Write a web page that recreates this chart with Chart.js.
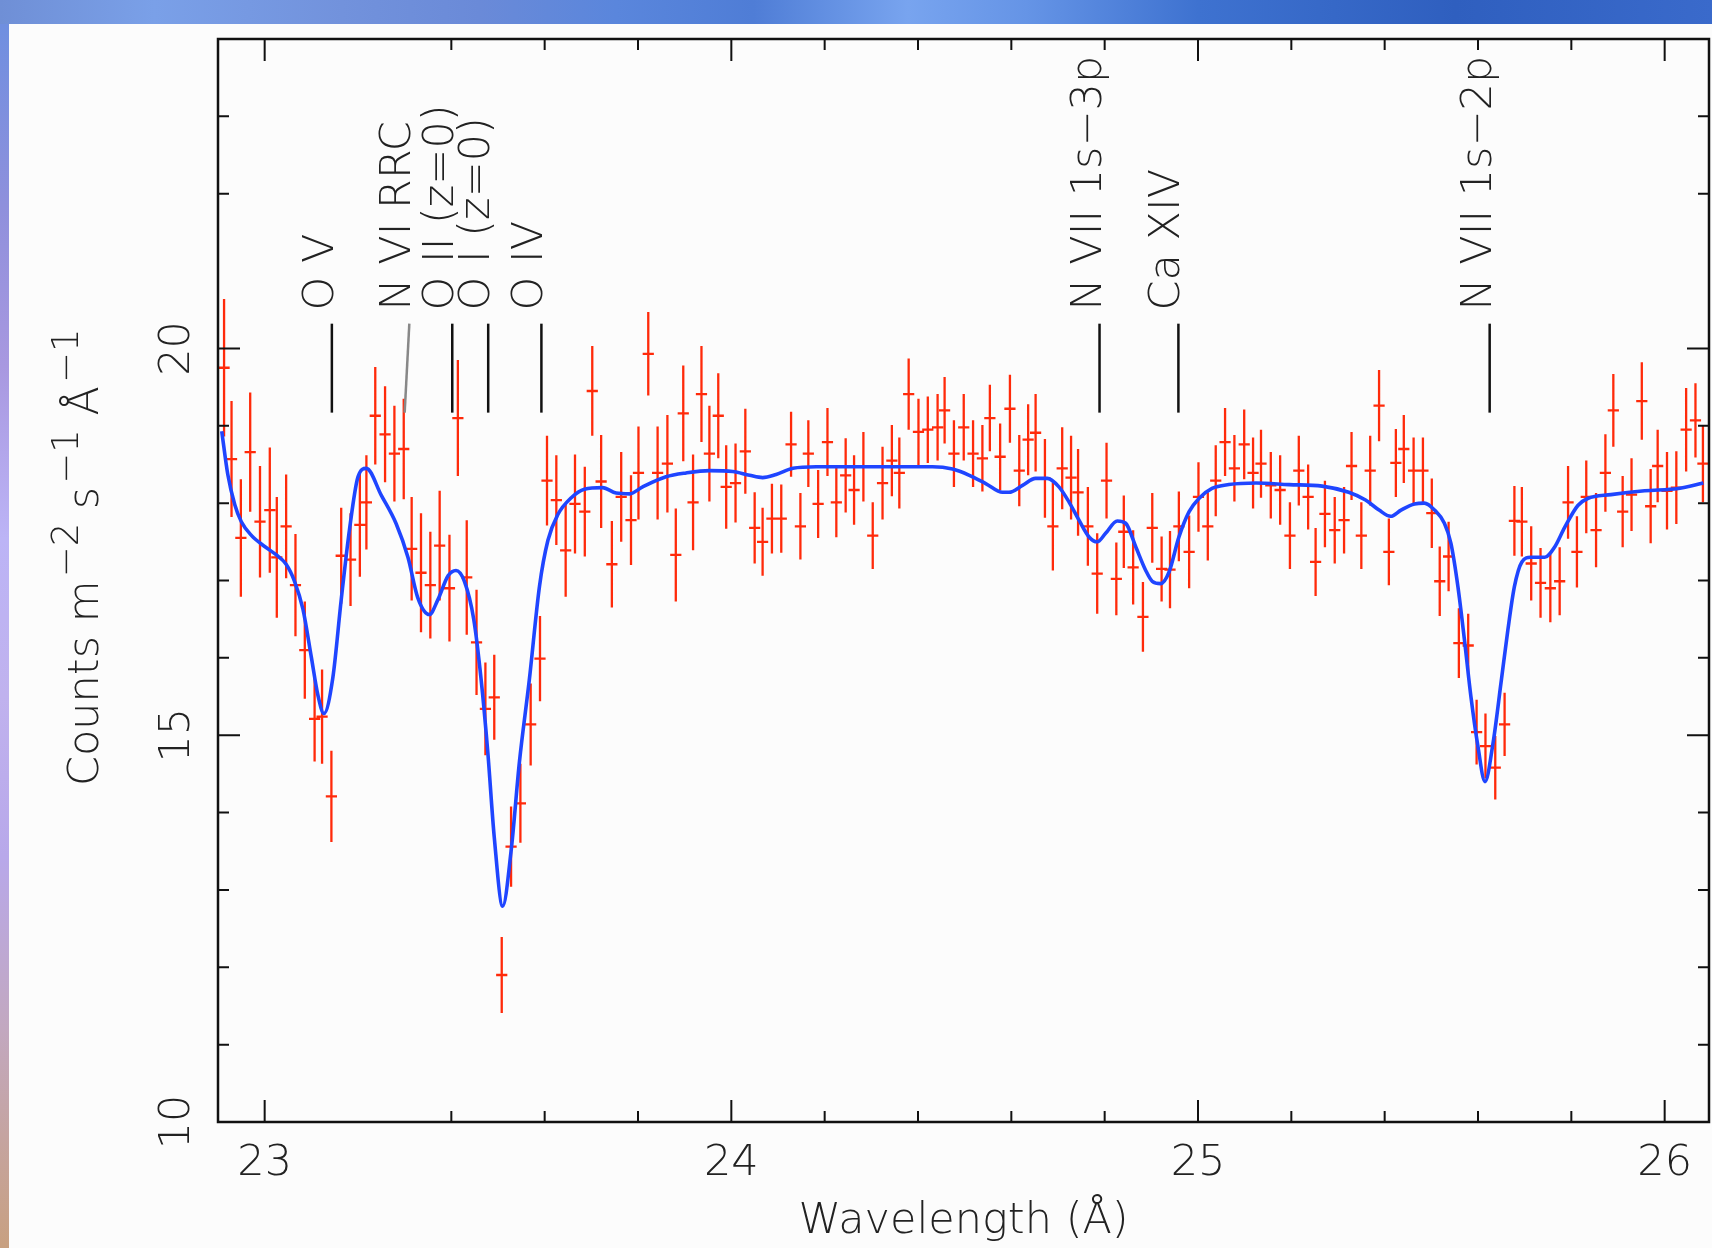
<!DOCTYPE html>
<html><head><meta charset="utf-8">
<script src="https://cdn.jsdelivr.net/npm/chart.js@4.4.1/dist/chart.umd.min.js"></script>
<style>
html,body{margin:0;padding:0;background:#fcfcfc;}
body{width:1712px;height:1248px;overflow:hidden;position:relative;}
#c{position:absolute;left:0;top:0;}
#banner{position:absolute;left:0;top:0;width:1712px;height:24px;
 background:linear-gradient(90deg,#6f8fd6 0%,#7aa0e8 9%,#7292dc 20%,#6a8ad8 28%,#5a86dc 36%,#4f7dd6 44%,#78a4ef 53%,#6594e6 60%,#3e72d0 70%,#2f5fbf 85%,#3a6acb 100%);}
#strip{position:absolute;left:0;top:24px;width:9px;height:1224px;
 background:linear-gradient(180deg,#6f8fe0 0%,#8f90dc 15%,#a898e0 28%,#bcb4f6 42%,#c0b2ee 55%,#b8a8ea 68%,#c2a8c0 82%,#c8a080 100%);}
</style></head><body>
<canvas id="c" width="1712" height="1248"></canvas>
<div id="banner"></div><div id="strip"></div>
<script>
// ---- data ----
const wavelength = [
22.913,22.929,22.949,22.969,22.990,23.011,23.026,23.046,23.066,23.086,23.107,23.123,23.143,23.164,23.184,23.204,23.218,23.237,23.258,23.278,
23.298,23.315,23.335,23.355,23.375,23.396,23.414,23.433,23.454,23.473,23.492,23.508,23.528,23.548,23.570,23.590,23.605,23.625,23.645,23.665,
23.686,23.702,23.721,23.744,23.764,23.785,23.801,23.822,23.842,23.863,23.881,23.897,23.918,23.936,23.953,23.972,23.989,24.009,24.030,24.050,
24.067,24.087,24.107,24.128,24.148,24.165,24.186,24.206,24.225,24.245,24.263,24.283,24.303,24.324,24.344,24.360,24.380,24.401,24.421,24.442,
24.457,24.477,24.498,24.518,24.538,24.554,24.576,24.597,24.617,24.636,24.652,24.672,24.689,24.709,24.728,24.743,24.764,24.784,24.804,24.825,
24.841,24.861,24.882,24.902,24.922,24.940,24.959,24.981,25.001,25.021,25.038,25.058,25.078,25.099,25.118,25.135,25.156,25.176,25.197,25.216,
25.236,25.252,25.272,25.293,25.313,25.329,25.350,25.369,25.388,25.409,25.424,25.441,25.462,25.482,25.501,25.518,25.537,25.559,25.579,25.597,
25.616,25.637,25.657,25.678,25.694,25.714,25.734,25.755,25.775,25.793,25.812,25.832,25.853,25.873,25.890,25.910,25.929,25.951,25.970,25.985,
26.005,26.025,26.046,26.066,26.082];
const flux = [
19.75,18.57,17.55,18.66,17.76,17.91,17.30,17.70,16.94,16.10,15.21,15.24,14.21,17.32,17.27,17.72,18.01,19.13,18.89,18.64,
18.70,17.41,17.10,16.94,17.45,16.90,19.10,17.04,16.20,15.34,15.49,11.90,13.56,14.12,15.14,15.99,18.29,18.04,17.39,17.99,
17.89,19.45,18.28,17.21,18.08,17.78,18.39,19.93,18.39,18.51,17.33,19.16,18.01,19.41,18.64,19.13,18.21,18.26,18.67,17.68,
17.50,17.80,17.80,18.76,17.70,18.64,17.99,18.79,18.01,18.36,18.17,18.47,17.58,18.26,18.55,18.39,19.41,18.92,18.95,18.98,
19.20,18.64,18.98,18.64,18.58,19.10,18.60,19.22,18.42,18.82,18.91,18.32,17.70,18.45,18.33,18.14,17.70,17.09,18.29,17.02,
17.63,17.17,16.53,17.68,17.15,17.14,17.70,17.37,18.08,17.70,18.29,18.79,18.45,18.76,18.39,18.51,18.23,18.17,17.58,18.42,
18.08,17.24,17.86,17.65,17.78,18.48,17.58,18.42,19.26,17.37,18.52,18.70,18.42,18.42,17.87,16.99,17.31,16.19,16.16,15.04,
14.86,14.58,15.14,17.77,17.76,17.22,16.97,16.90,16.99,18.01,17.37,18.08,17.65,18.39,19.20,17.89,18.11,19.32,17.96,18.48,
18.16,18.20,18.95,19.07,18.51];
const fluxErr = [
0.89,0.75,0.76,0.77,0.72,0.81,0.78,0.67,0.66,0.63,0.55,0.61,0.59,0.62,0.60,0.67,0.61,0.63,0.62,0.62,
0.65,0.67,0.77,0.69,0.71,0.69,0.75,0.74,0.68,0.60,0.55,0.49,0.52,0.51,0.53,0.55,0.58,0.58,0.60,0.64,
0.58,0.58,0.60,0.56,0.58,0.58,0.60,0.54,0.60,0.63,0.60,0.62,0.62,0.62,0.62,0.55,0.54,0.51,0.55,0.46,
0.44,0.45,0.44,0.42,0.43,0.43,0.44,0.44,0.45,0.48,0.45,0.45,0.43,0.47,0.46,0.46,0.46,0.43,0.43,0.43,
0.43,0.43,0.43,0.43,0.43,0.43,0.43,0.44,0.46,0.46,0.50,0.51,0.57,0.53,0.54,0.56,0.51,0.52,0.49,0.47,
0.47,0.48,0.45,0.45,0.42,0.50,0.45,0.47,0.45,0.44,0.46,0.44,0.43,0.45,0.46,0.44,0.43,0.45,0.43,0.45,
0.42,0.44,0.43,0.43,0.43,0.44,0.43,0.45,0.46,0.43,0.44,0.44,0.43,0.43,0.45,0.45,0.45,0.45,0.41,0.42,
0.42,0.41,0.41,0.45,0.45,0.48,0.45,0.44,0.44,0.47,0.46,0.47,0.48,0.50,0.47,0.46,0.47,0.50,0.48,0.47,
0.50,0.47,0.54,0.48,0.50];
const binHalfWidth = 0.012;

const modelWavelength = [
22.908,22.921,22.936,22.950,22.972,23.000,23.025,23.046,23.064,23.082,23.100,23.114,23.127,23.146,23.164,23.182,23.200,23.218,23.250,23.282,
23.307,23.328,23.353,23.371,23.393,23.410,23.428,23.448,23.464,23.478,23.492,23.510,23.528,23.546,23.567,23.589,23.607,23.628,23.657,23.685,
23.724,23.753,23.782,23.810,23.860,23.903,23.953,24.003,24.039,24.067,24.096,24.132,24.182,24.289,24.360,24.431,24.474,24.510,24.546,24.581,
24.595,24.624,24.652,24.677,24.702,24.724,24.745,24.767,24.784,24.802,24.827,24.845,24.867,24.888,24.902,24.920,24.938,24.959,24.981,25.002,
25.030,25.066,25.124,25.195,25.266,25.323,25.359,25.388,25.413,25.435,25.464,25.485,25.507,25.528,25.542,25.557,25.571,25.585,25.600,25.615,
25.632,25.650,25.664,25.678,25.694,25.713,25.743,25.764,25.786,25.814,25.835,25.885,25.957,26.029,26.083];
const modelFlux = [
18.93,18.37,17.98,17.76,17.58,17.44,17.33,17.21,16.99,16.63,16.01,15.52,15.28,15.74,16.75,17.67,18.34,18.45,18.10,17.73,
17.30,16.78,16.56,16.75,17.06,17.13,16.99,16.50,15.71,14.79,13.68,12.79,13.50,14.66,15.71,16.93,17.52,17.85,18.07,18.18,
18.20,18.13,18.12,18.21,18.34,18.39,18.42,18.41,18.36,18.33,18.37,18.45,18.47,18.47,18.47,18.47,18.44,18.36,18.25,18.14,
18.14,18.23,18.32,18.32,18.21,18.01,17.78,17.56,17.50,17.61,17.77,17.74,17.43,17.13,16.99,16.96,17.11,17.56,17.89,18.06,
18.19,18.24,18.26,18.24,18.22,18.14,18.04,17.91,17.83,17.91,17.99,18.00,17.91,17.74,17.48,16.92,16.23,15.49,14.85,14.40,
14.89,15.71,16.36,16.92,17.24,17.30,17.30,17.43,17.69,17.97,18.06,18.11,18.16,18.19,18.26];

const xTickLabels = [23, 24, 25, 26];
const xMinorTicks = [23.4, 23.6, 23.8, 24.2, 24.4, 24.6, 24.8, 25.2, 25.4, 25.6, 25.8];
const yTickLabels = [10, 15, 20];
const yMinorTicks = [11, 12, 13, 14, 16, 17, 18, 19, 22, 23];

const lineLabels = ['O V', 'N VI RRC', 'O II (z=0)', 'O I (z=0)', 'O IV', 'N VII 1s\u22123p', 'Ca XIV', 'N VII 1s\u22122p'];
const lineWlTop    = [23.144, 23.310, 23.402, 23.479, 23.593, 24.789, 24.958, 25.625];
const lineWlBottom = [23.144, 23.300, 23.402, 23.479, 23.593, 24.789, 24.958, 25.625];
const labelStartFlux = 20.49, lineTopFlux = 20.32, lineBottomFlux = 19.17;

const yTitleParts = [['Counts m', 0], ['\u22122', 1], [' s', 0], ['\u22121', 1], [' \u00c5', 0], ['\u22121', 1]];

// ---- styles ----
const RED = '#ff2a0a', BLUE = '#1f45ff', INK = '#222';
const FONT = 'DejaVu Sans';
const FW = '200';

const overlay = {
  id: 'overlay',
  beforeDatasetsDraw(chart) {
    const {ctx, chartArea: a, scales: {x, y}} = chart;
    ctx.save();
    ctx.beginPath(); ctx.rect(a.left, a.top, a.right - a.left, a.bottom - a.top); ctx.clip();
    ctx.strokeStyle = RED; ctx.lineWidth = 2.3; ctx.lineCap = 'butt';
    ctx.beginPath();
    for (let i = 0; i < wavelength.length; i++) {
      const px = x.getPixelForValue(wavelength[i]);
      const py = y.getPixelForValue(flux[i]);
      ctx.moveTo(px, y.getPixelForValue(flux[i] + fluxErr[i]));
      ctx.lineTo(px, y.getPixelForValue(flux[i] - fluxErr[i]));
      ctx.moveTo(x.getPixelForValue(wavelength[i] - binHalfWidth), py);
      ctx.lineTo(x.getPixelForValue(wavelength[i] + binHalfWidth), py);
    }
    ctx.stroke();
    ctx.restore();
  },
  afterDraw(chart) {
    const {ctx, chartArea: a, scales: {x, y}} = chart;
    ctx.save();
    // frame
    ctx.strokeStyle = '#111'; ctx.lineWidth = 2.5;
    ctx.strokeRect(a.left, a.top, a.right - a.left, a.bottom - a.top);
    // ticks
    ctx.lineWidth = 2;
    ctx.beginPath();
    const xt = (v, L) => { const p = x.getPixelForValue(v);
      ctx.moveTo(p, a.bottom); ctx.lineTo(p, a.bottom - L);
      ctx.moveTo(p, a.top); ctx.lineTo(p, a.top + L); };
    const yt = (v, L) => { const p = y.getPixelForValue(v);
      ctx.moveTo(a.left, p); ctx.lineTo(a.left + L, p);
      ctx.moveTo(a.right, p); ctx.lineTo(a.right - L, p); };
    xTickLabels.forEach(v => xt(v, 22));
    xMinorTicks.forEach(v => xt(v, 11));
    yTickLabels.forEach(v => yt(v, 22));
    yMinorTicks.forEach(v => yt(v, 11));
    ctx.stroke();
    // y tick labels (rotated)
    ctx.fillStyle = INK;
    ctx.font = FW + ' 43px "' + FONT + '"';
    ctx.textAlign = 'center'; ctx.textBaseline = 'alphabetic';
    yTickLabels.forEach(v => {
      ctx.save(); ctx.translate(189, y.getPixelForValue(v)); ctx.rotate(-Math.PI / 2);
      ctx.fillText(String(v), 0, 0); ctx.restore();
    });
    // y title with superscripts
    ctx.save();
    ctx.translate(98, 786); ctx.rotate(-Math.PI / 2);
    ctx.textAlign = 'left';
    let cx = 0;
    yTitleParts.forEach(([t, sup]) => {
      ctx.font = FW + (sup ? ' 37px "' : ' 43px "') + FONT + '"';
      ctx.fillText(t, cx, sup ? -20 : 0);
      cx += ctx.measureText(t).width + (sup ? 0 : 3);
    });
    ctx.restore();
    // line identifications
    ctx.font = FW + ' 43px "' + FONT + '"';
    ctx.textAlign = 'left';
    const yTop = y.getPixelForValue(lineTopFlux), yBot = y.getPixelForValue(lineBottomFlux);
    const yLab = y.getPixelForValue(labelStartFlux);
    lineLabels.forEach((t, i) => {
      const pt = x.getPixelForValue(lineWlTop[i]), pb = x.getPixelForValue(lineWlBottom[i]);
      ctx.strokeStyle = (pt !== pb) ? '#888' : '#111';
      ctx.lineWidth = 2.5;
      ctx.beginPath(); ctx.moveTo(pt, yTop); ctx.lineTo(pb, yBot); ctx.stroke();
      ctx.save(); ctx.translate(pt + 1, yLab); ctx.rotate(-Math.PI / 2);
      ctx.fillText(t, 0, 0); ctx.restore();
    });
    ctx.restore();
  }
};

new Chart(document.getElementById('c'), {
  type: 'scatter',
  data: {
    datasets: [
      { label: 'Model', type: 'line',
        data: modelWavelength.map((w, i) => ({x: w, y: modelFlux[i]})),
        borderColor: BLUE, borderWidth: 3.6, pointRadius: 0, fill: false,
        cubicInterpolationMode: 'monotone' },
      { label: 'Data', data: wavelength.map((w, i) => ({x: w, y: flux[i]})),
        pointRadius: 0, pointHoverRadius: 0, showLine: false }
    ]
  },
  options: {
    responsive: false, animation: false, devicePixelRatio: 1,
    layout: { padding: { top: 39, right: 3, left: 0, bottom: 0 } },
    plugins: { legend: { display: false }, tooltip: { enabled: false } },
    events: [],
    scales: {
      x: { type: 'linear', position: 'bottom', min: 22.9, max: 26.095,
        afterBuildTicks: s => { s.ticks = xTickLabels.map(v => ({value: v})); },
        ticks: { callback: v => String(v), font: {family: FONT, size: 43, weight: FW}, color: INK,
                 padding: 8, maxRotation: 0, autoSkip: false },
        grid: { display: false }, border: { display: false },
        title: { display: true, text: 'Wavelength (\u00c5)', font: {family: FONT, size: 43, weight: FW},
                 color: INK, padding: {top: 0, bottom: 0} },
        afterFit: s => { s.height = 126; } },
      y: { type: 'linear', position: 'left', min: 10, max: 24,
        ticks: { display: false }, grid: { display: false }, border: { display: false },
        afterFit: s => { s.width = 218; } }
    }
  },
  plugins: [overlay]
});
</script>
</body></html>
